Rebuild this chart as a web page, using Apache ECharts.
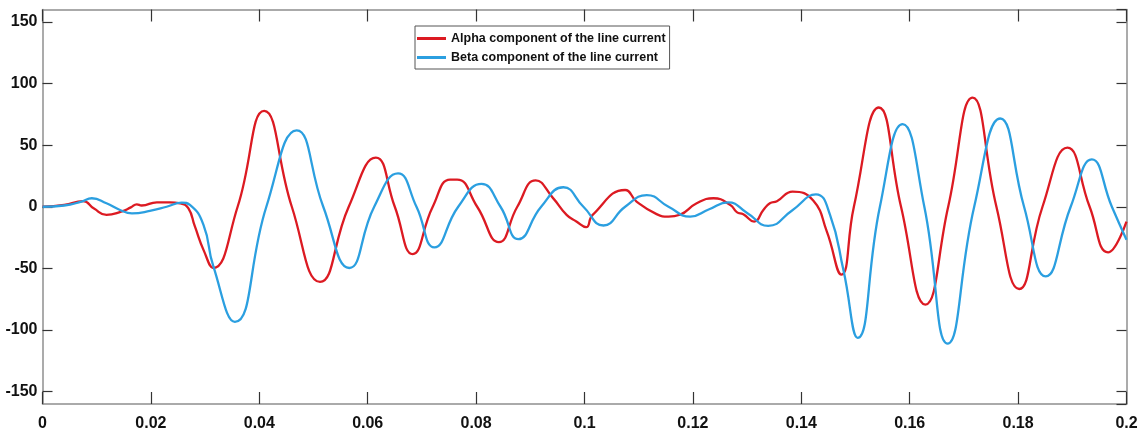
<!DOCTYPE html>
<html>
<head>
<meta charset="utf-8">
<script src="https://cdn.jsdelivr.net/npm/echarts@6/dist/echarts.min.js"></script>
<style>
  html, body { margin: 0; padding: 0; background: #fff; }
  #chart { width: 1141px; height: 443px; }
</style>
</head>
<body>
<div id="chart"></div>
<script>
// values: time (s) and current
var alphaT = [0, 0.004, 0.0075, 0.0095, 0.0118, 0.0145, 0.0163, 0.0174, 0.0183, 0.0211, 0.0235, 0.0254, 0.0269, 0.0281,
    0.0298, 0.0315, 0.0360, 0.0409, 0.0460, 0.0512, 0.0565, 0.0615, 0.0650, 0.0683, 0.0720, 0.0752, 0.0765, 0.0802,
    0.0842, 0.0876, 0.0910, 0.0942, 0.0967, 0.0985, 0.1003, 0.1015, 0.1075, 0.1096, 0.1133, 0.1155, 0.1176, 0.1207,
    0.1238, 0.1269, 0.1281, 0.1293, 0.1313, 0.1330, 0.1342, 0.1355, 0.1384, 0.1422, 0.1447, 0.1474, 0.1497, 0.1543,
    0.1584, 0.1629, 0.1671, 0.1716, 0.1760, 0.1802, 0.1845, 0.1891, 0.1932, 0.1966, 0.2];
var alphaI = [0, 1.5, 4.5, -1.5, -6.6, -4, -0.5, 2.0, 1, 3.6, 3.6, 2.8, -1.2, -15.8,
    -36, -49.7, 0, 77.8, 0, -61, 0, 39.8, 0, -38.4, 0, 22, 22, 0,
    -28.7, 0, 21.4, 7, -6.6, -12, -16.6, -6.6, 13.6, 4.2, -6, -8, -6.5, 2.8,
    6.9, 1.5, -4.4, -6, -12, -2.6, 2.8, 4.5, 12.3, 5, -20, -55, 0, 80.5,
    0, -79.4, 0, 88.5, 0, -66.7, 0, 47.9, 0, -37, -12];

var betaT = [0, 0.004, 0.0072, 0.0091, 0.0118, 0.0143, 0.0165, 0.0198, 0.0229, 0.0257, 0.0272, 0.0297, 0.0315,
    0.0355, 0.0413, 0.0469, 0.0518, 0.0566, 0.0612, 0.0656, 0.0690, 0.0723, 0.0767, 0.0810, 0.0845, 0.0878, 0.0920,
    0.0961, 0.0998, 0.1035, 0.1075, 0.1115, 0.1155, 0.1195, 0.1230, 0.1265, 0.1300, 0.1339, 0.1383, 0.1427, 0.1453,
    0.1478, 0.1504, 0.1545, 0.1587, 0.1627, 0.1670, 0.1719, 0.1767, 0.1811, 0.1851, 0.1897, 0.1936, 0.1973, 0.2];
var betaI = [0, 1, 4.2, 6.9, 2.8, -2.6, -5.3, -3.4, 0, 3.4, 1.5, -14.7, -48,
    -93.4, 0, 62, 0, -49.7, 0, 27, 0, -33, 0, 18.5, 0, -26.3, 0,
    15.8, 0, -15.2, 0, 9.5, 0, -8, -2, 3.6, -5, -15.5, -3, 10.1, -6.6,
    -52, -106.3, 0, 67, 0, -111, 0, 71.6, 0, -56.5, 0, 38.4, 0, -26.8];

var xTicks = { min: 0, max: 0.2, interval: 0.02 };
var yTicks = { min: -160, max: 160 };

var alphaData = alphaT.map(function (t, i) { return [t, alphaI[i]]; });
var betaData = betaT.map(function (t, i) { return [t, betaI[i]]; });

var labelFont = "'Liberation Sans', Arial, sans-serif";

function xAxisCfg(pos, showLabel) {
    return {
        type: 'value', position: pos, min: xTicks.min, max: xTicks.max, interval: xTicks.interval,
        axisLine: { show: true, onZero: false, lineStyle: { color: '#8f8f8f', width: 1.5 } },
        axisTick: { show: true, inside: true, length: 12, lineStyle: { color: '#333', width: 1.2 } },
        splitLine: { show: false },
        axisLabel: {
            show: showLabel, color: '#111', fontSize: 16, fontWeight: 'bold', fontFamily: labelFont, margin: 12
        }
    };
}
function yAxisCfg(pos, showLabel) {
    return {
        type: 'value', position: pos, min: yTicks.min, max: yTicks.max, splitNumber: 6,
        axisLine: { show: true, onZero: false, lineStyle: { color: '#8f8f8f', width: 1.5 } },
        axisTick: { show: true, inside: true, length: 10, lineStyle: { color: '#333', width: 1.2 } },
        splitLine: { show: false },
        axisLabel: {
            show: showLabel, color: '#111', fontSize: 16, fontWeight: 'bold', fontFamily: labelFont, margin: 5,
            showMinLabel: false, showMaxLabel: false
        }
    };
}

var chart = echarts.init(document.getElementById('chart'));
var option = {
    backgroundColor: '#fff',
    animation: false,
    grid: { left: 42.5, right: 14.5, top: 9.5, bottom: 39, containLabel: false },
    legend: {
        orient: 'vertical', left: 415, top: 26,
        padding: [6, 4, 5, 2], itemGap: 6,
        itemWidth: 29, itemHeight: 3,
        icon: 'rect',
        borderColor: '#555', borderWidth: 1, backgroundColor: '#fff',
        textStyle: { color: '#111', fontSize: 12.5, fontWeight: 'bold', fontFamily: labelFont },
        data: ['Alpha component of the line current', 'Beta component of the line current']
    },
    xAxis: [xAxisCfg('bottom', true), xAxisCfg('top', false)],
    yAxis: [yAxisCfg('left', true), yAxisCfg('right', false)],
    series: [
        {
            name: 'Alpha component of the line current', type: 'line', xAxisIndex: 0, yAxisIndex: 0,
            data: alphaData, smooth: 0.5, showSymbol: false, symbol: 'none',
            itemStyle: { color: '#dc1a22' },
            lineStyle: { color: '#dc1a22', width: 2.3 }
        },
        {
            name: 'Beta component of the line current', type: 'line', xAxisIndex: 0, yAxisIndex: 0,
            data: betaData, smooth: 0.5, showSymbol: false, symbol: 'none',
            itemStyle: { color: '#2b9fe0' },
            lineStyle: { color: '#2b9fe0', width: 2.3 }
        }
    ]
};
chart.setOption(option);
</script>
</body>
</html>
